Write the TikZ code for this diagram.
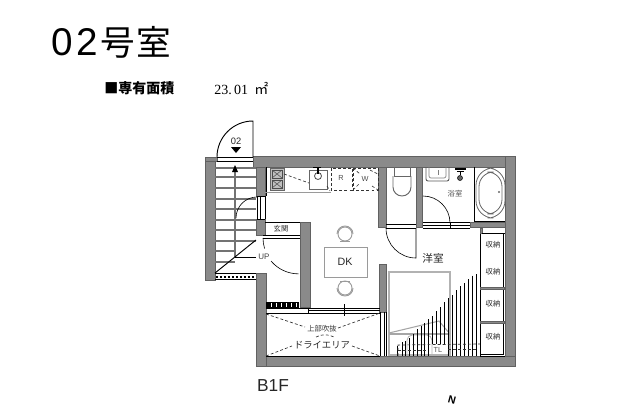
\documentclass[tikz,border=0pt]{standalone}
\usepackage{fontspec}
\setmainfont{Liberation Sans}
\newfontfamily\cjk{Noto Sans CJK JP}
\newfontfamily\serifnum{Liberation Serif}
\usetikzlibrary{arrows.meta}
\definecolor{wallgray}{HTML}{8A8A8A}
\definecolor{fixgray}{HTML}{9A9A9A}
\tikzset{
  wall/.style={fill=wallgray,draw=wallgray!70!black,line width=.4pt},
  thin line/.style={draw=black,line width=.45pt},
  fixture/.style={draw=fixgray,line width=.7pt},
  thick line/.style={draw=black,line width=.7pt},
  dashline/.style={draw=black!80,line width=.5pt,dash pattern=on 2.2pt off 1.6pt},
  tread/.style={draw=black!55,line width=.8pt},
  lab/.style={inner sep=0pt,text=black!85},
  risers/.style={draw=black,line width=.6pt},
}
\begin{document}
\begin{tikzpicture}[x=0.75pt,y=-0.75pt]
\useasboundingbox (0,0) rectangle (639,411);
% titles
\node[lab,anchor=west,text=black] (title) at (51,42) {\fontsize{29}{29}\selectfont 0\hspace{3pt}2\hspace{2pt}{\fontsize{26}{26}\selectfont\cjk 号\hspace{1pt}室}};
\node[lab,anchor=west,text=black] (area) at (104,88) {\fontsize{10.5}{10.5}\selectfont\cjk\bfseries ■専有面積};
\node[lab,anchor=west,text=black] (areaval) at (214,88) {\fontsize{10.5}{10.5}\selectfont\serifnum 23.\,01\hspace{2pt} {\cjk ㎡}};
% walls
\foreach \a/\b/\c/\d in {205/157/215/280,205/157/217/161,253/156/515/167,505/156/515/366,256/356/515/366,256/273/266/366,256/167/265/196,256/219/265/235,300/222/310/307,378/167/386/227,416/167/422/227,470/222/505/227,379/264/386/312}
  \path[wall] (\a,\b) rectangle (\c,\d);
% entrance door
\draw[thick line] (217,157) arc[start angle=180,end angle=270,radius=36] -- (253,157);
\draw[thin line] (217,157) -- (253,157) (217,161) -- (253,161);
\node[lab] (unit) at (236,141) {\fontsize{7}{7}\selectfont 02};
\fill[black] (231,147) -- (241,147) -- (236,153) -- cycle;
% stairs
\foreach \y in {168,177,188,199,209,220,230,241} \draw[tread] (215,\y) -- (256,\y);
\draw[tread] (215,251) -- (235,251) (215,262) -- (235,262);
\draw[tread] (235,172) -- (235,257);
\fill[black] (235,165) -- (238,172) -- (232,172) -- cycle;
\draw[thick line] (215,273) -- (256,240);
\draw[thin line] (235,257) -- (256,257);
\draw[thin line] (215,273) -- (256,273) (215,279) -- (256,279);
\draw[draw=black,line width=.8pt,dash pattern=on 1.5pt off 1.5pt] (216,277) -- (255,277);
\draw[thin line] (236,218) arc[start angle=180,end angle=270,radius=21] -- (256,197);
\draw[thin line] (257,196) -- (265,196) (257,219) -- (265,219) (257,196) -- (257,219) (260,196) -- (260,219) (265,196) -- (265,219);
% entry
\draw[thick line] (265,222) -- (300,222);
\node[lab] (genkan) at (281,229) {\fontsize{5.5}{5.5}\selectfont\cjk 玄関};
\draw[thick line] (263,235) -- (300,235);
\draw[thin line] (263,238) -- (300,238);
\node[lab,text=black!75] (up) at (264,257) {\fontsize{6}{6}\selectfont UP};
\draw[thin line] (263,238) arc[start angle=180,end angle=163,radius=36];
\draw[thin line] (271,261) arc[start angle=140,end angle=90,radius=36];
\fill[black] (266,302) rectangle (299,308);
\foreach \x in {271,276,281,286,291,296} \fill[white] (\x,303) rectangle (\x+1,307);
% kitchen
\draw[thick line] (266,167) -- (266,196);
\draw[fixture] (265,192) -- (331,192);
\draw[fill=black!25,draw=black!60,line width=.5pt] (270,168) rectangle (284,190);
\foreach \y in {174,184}{
  \draw[draw=black!70,line width=.5pt] (272,\y-4) rectangle (282,\y+4);
  \draw[draw=black!70,line width=.4pt] (272,\y-4) -- (282,\y+4) (272,\y+4) -- (282,\y-4);
}
\draw[draw=black!60,line width=.6pt] (309,170) rectangle (327,189);
\draw[draw=black!70,line width=.6pt] (318,176) circle (3.5);
\draw[black,line width=1.4pt] (313,167.5) -- (321,167.5);
\draw[black,line width=1pt] (318,167) -- (318,174);
\draw[dashline] (284,174) -- (309,183) (327,186) -- (330,191);
\draw[dashline] (331,168) rectangle (352,190);
\node[lab,text=black!70] (r) at (341,178) {\fontsize{5.5}{5.5}\selectfont R};
\draw[dashline] (353,168) rectangle (378,190);
\node[lab,text=black!70] (w) at (365,179) {\fontsize{5.5}{5.5}\selectfont W};
\draw[dashline] (353,168) -- (360,174) (370,170) -- (378,174) (353,190) -- (359,184) (372,186) -- (378,190);
% dining
\draw[fixture] (324,247) rectangle (367,277);
\node[lab] (dk) at (345,262) {\fontsize{8}{8}\selectfont DK};
\foreach \y/\s in {234/1,288/-1}{
  \draw[fixture] (345,\y) circle (7);
  \draw[fixture] (337,\y) arc[start angle=180,end angle={180+\s*180},radius=8];
  \draw[fixture] (340,\y+\s*7) -- (350,\y+\s*7);
}
% window + dry area
\draw[thick line] (266,308) -- (380,308);
\draw[thin line] (308,310) -- (380,310);
\draw[thick line] (266,313) -- (380,313);
\draw[thin line] (308,308) -- (308,313);
\draw[thin line] (344,304) -- (344,316) (340,310) -- (348,310);
\draw[thick line] (266,356) -- (380,356);
\draw[dashline] (266,314) -- (305,327) (338,328) -- (380,313) (266,356) -- (292,346) (352,346) -- (380,356);
\draw[dashline] (316,337) .. controls (322,334) and (328,334) .. (334,337);
\node[lab,text=black!80] (fuki) at (322,329) {\fontsize{5.5}{5.5}\selectfont\cjk 上部吹抜};
\node[lab] (dry) at (322,345) {\fontsize{7}{7}\selectfont\cjk ドライエリア};
% toilet
\draw[thick line] (386,224) -- (416,224);
\draw[thick line] (386,228) -- (416,228);
\draw[fixture,draw=black!60] (394,167) -- (394,176) -- (410,176) -- (410,167);
\draw[fixture,draw=black!60] (393,176) -- (393,187) arc[start angle=180,end angle=0,radius=9] -- (411,176);
\draw[thin line] (386,228) arc[start angle=180,end angle=90,radius=30] -- (416,228);
% bathroom
\draw[fixture,draw=black!65,rounded corners=1.5pt] (426,167) -- (426,181) -- (449,181) -- (449,167);
\draw[draw=black!50,line width=.5pt,rounded corners=1.5pt] (429,167) -- (429,178) -- (446,178) -- (446,167);
\draw[draw=black!50,line width=.6pt] (438,170) -- (438,175);
\draw[black,line width=.8pt] (455,169) -- (466,169);
\draw[black,line width=.5pt] (457,171.5) -- (464,171.5);
\draw[black,line width=.6pt] (460,172) -- (460,175);
\draw[fill=black!60,draw=black] (460,178) circle (2.5);
\node[lab,text=black!70] (bath) at (455,194) {\fontsize{5.5}{5.5}\selectfont\cjk 浴室};
\draw[thin line] (423,196) arc[start angle=270,end angle=360,radius=27];
\draw[thin line] (423,222) -- (470,222) (423,225) -- (470,225) (423,228) -- (470,228);
\draw[thin line] (450,222) -- (450,228);
\draw[thick line] (474,167) -- (474,222);
\draw[thin line] (474,221.5) -- (505,221.5);
\draw[draw=black!60,line width=.6pt,rounded corners=13pt] (476,168) rectangle (505,218);
\draw[draw=black!60,line width=.6pt,rounded corners=11pt] (479,172) rectangle (502,214);
\fill[black!60] (499,192) circle (1.2);
% bed
\draw[draw=black!30,line width=.8pt] (389,272) rectangle (450,355);
\draw[draw=black!35,line width=.8pt] (389,333) -- (439,321) -- (450,334);
\draw[draw=black!35,line width=.8pt] (389,334) -- (450,334);
\draw[draw=black!30,line width=.6pt,rounded corners=4pt] (407,355) -- (407,335) -- (432,335) -- (432,355);
\node[lab] (room) at (433,258) {\fontsize{8}{8}\selectfont\cjk 洋室};
\node[lab,text=black!65] (tl) at (438,350) {\fontsize{5.5}{5.5}\selectfont TL};
% lower right
\draw[thick line] (380,312) -- (380,356) (384,312) -- (384,356) (386,312) -- (386,356);
\foreach \x/\y in {397/346,402/342,405/341,409/338,413/334,417/329,421/326,424/323,428/319}
  \draw[risers] (\x,\y) -- (\x,356);
\foreach \x/\y in {432/316,436/311,440/307,444/302}
  \draw[risers] (\x,\y) -- (\x,344);
\foreach \x/\y in {448/298,452/295,456/290,460/286,464/283,468/279,472/275.5}
  \draw[risers] (\x,\y) -- (\x,356);
\draw[risers] (476,274) -- (476,356);
\draw[dashline] (398,356) -- (398,345) -- (480,344);
\draw[dashline] (398,350) -- (428,350) (448,349) -- (478,349);
% storage
\draw[thick line] (480,228) -- (480,356);
\draw[thin line] (503,233) -- (503,354) -- (480,354);
\draw[thick line] (480,356) -- (505,356);
\draw[wall] (480,228) rectangle (482,233);
\draw[thin line] (482,233) -- (505,233);
\path[wall] (480,287) rectangle (504,289);
\path[wall] (480,321) rectangle (504,323);
\foreach \n/\y in {sa/245,sb/272,sc/304,sd/337}
  \node[lab] (\n) at (493,\y) {\fontsize{5.5}{5.5}\selectfont\cjk 収納};
% floor + north
\node[lab,text=black!85] (floor) at (273,386) {\fontsize{13}{13}\selectfont B1F};
\node[lab,text=black,rotate=-15] (north) at (452,400) {\fontsize{8}{8}\selectfont\bfseries N};
\end{tikzpicture}
\end{document}
